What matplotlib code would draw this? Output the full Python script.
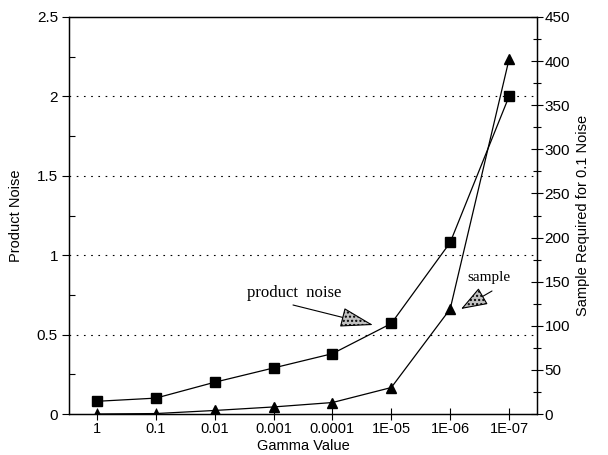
import numpy as np
import matplotlib.pyplot as plt
from matplotlib.ticker import MultipleLocator

# data
gamma_labels = ["1", "0.1", "0.01", "0.001", "0.0001", "1E-05", "1E-06", "1E-07"]
product_noise = [0.08, 0.10, 0.20, 0.29, 0.38, 0.57, 1.08, 2.00]
samples_needed = [0, 0.5, 4, 8, 13, 30, 119, 402]

plt.rcParams["font.family"] = ["Liberation Sans", "DejaVu Sans"]

x = np.arange(len(gamma_labels))

fig = plt.figure(figsize=(6.08, 4.55), dpi=100)
ax = fig.add_axes([69 / 608, 41 / 455, 468 / 608, 397 / 455])
ax2 = ax.twinx()

ax.plot(x, product_noise, color="black", lw=0.9, marker="s", ms=6.5, zorder=3)
ax2.plot(x, samples_needed, color="black", lw=0.9, marker="^", ms=6.5, zorder=3)

ax.set_xlim(-0.475, 7.475)
ax.set_ylim(0, 2.5)
ax2.set_ylim(0, 450)

ax.set_xticks(x)
ax.set_xticklabels(gamma_labels)
ax.yaxis.set_major_locator(MultipleLocator(0.5))
ax.yaxis.set_minor_locator(MultipleLocator(0.25))
ax2.yaxis.set_major_locator(MultipleLocator(50))
ax2.yaxis.set_minor_locator(MultipleLocator(25))
ax.yaxis.set_major_formatter(plt.FuncFormatter(lambda v, p: f"{v:g}"))

for v in [0.5, 1.0, 1.5, 2.0]:
    ax.axhline(v, color="black", lw=0.8, ls=(0, (1.5, 5)), zorder=1)

ax.tick_params(axis="x", direction="inout", length=8, width=0.8, labelsize=10.5, pad=2)
ax.tick_params(axis="y", which="major", direction="out", length=5, width=0.8, labelsize=11, pad=3)
ax.tick_params(axis="y", which="minor", direction="in", length=4, width=0.8)
ax2.tick_params(axis="y", which="major", direction="inout", length=9, width=0.8, labelsize=11, pad=1)
ax2.tick_params(axis="y", which="minor", direction="inout", length=6, width=0.8)

for a in (ax, ax2):
    for s in a.spines.values():
        s.set_linewidth(0.9)

ax.set_xlabel("Gamma Value", fontsize=10.5, labelpad=2)
ax.set_ylabel("Product Noise", fontsize=10.5, labelpad=10)
ax2.set_ylabel("Sample Required for 0.1 Noise", fontsize=10.5, labelpad=4)

# callouts: text plus an arrow with a big shaded head
fig.text(294, 455 - 293, "product  noise", ha="center", va="center",
         fontsize=12, family="Liberation Serif", transform=None)
fig.text(489, 455 - 278, "sample", ha="center", va="center",
         fontsize=11, family="Liberation Serif", transform=None)
ax.annotate("", xy=(373, 455 - 325), xycoords="figure pixels",
            xytext=(293, 455 - 305), textcoords="figure pixels",
            arrowprops=dict(arrowstyle="-|>,head_length=1.4,head_width=0.42",
                            mutation_scale=15, fc="#c0c0c0", ec="black", lw=0.8,
                            hatch="....", shrinkA=0, shrinkB=0))
ax.annotate("", xy=(461, 455 - 309), xycoords="figure pixels",
            xytext=(492, 455 - 291), textcoords="figure pixels",
            arrowprops=dict(arrowstyle="-|>,head_length=1.4,head_width=0.5",
                            mutation_scale=12, fc="#c0c0c0", ec="black", lw=0.8,
                            hatch="....", shrinkA=0, shrinkB=0))

fig.savefig("out.png", dpi=100)
